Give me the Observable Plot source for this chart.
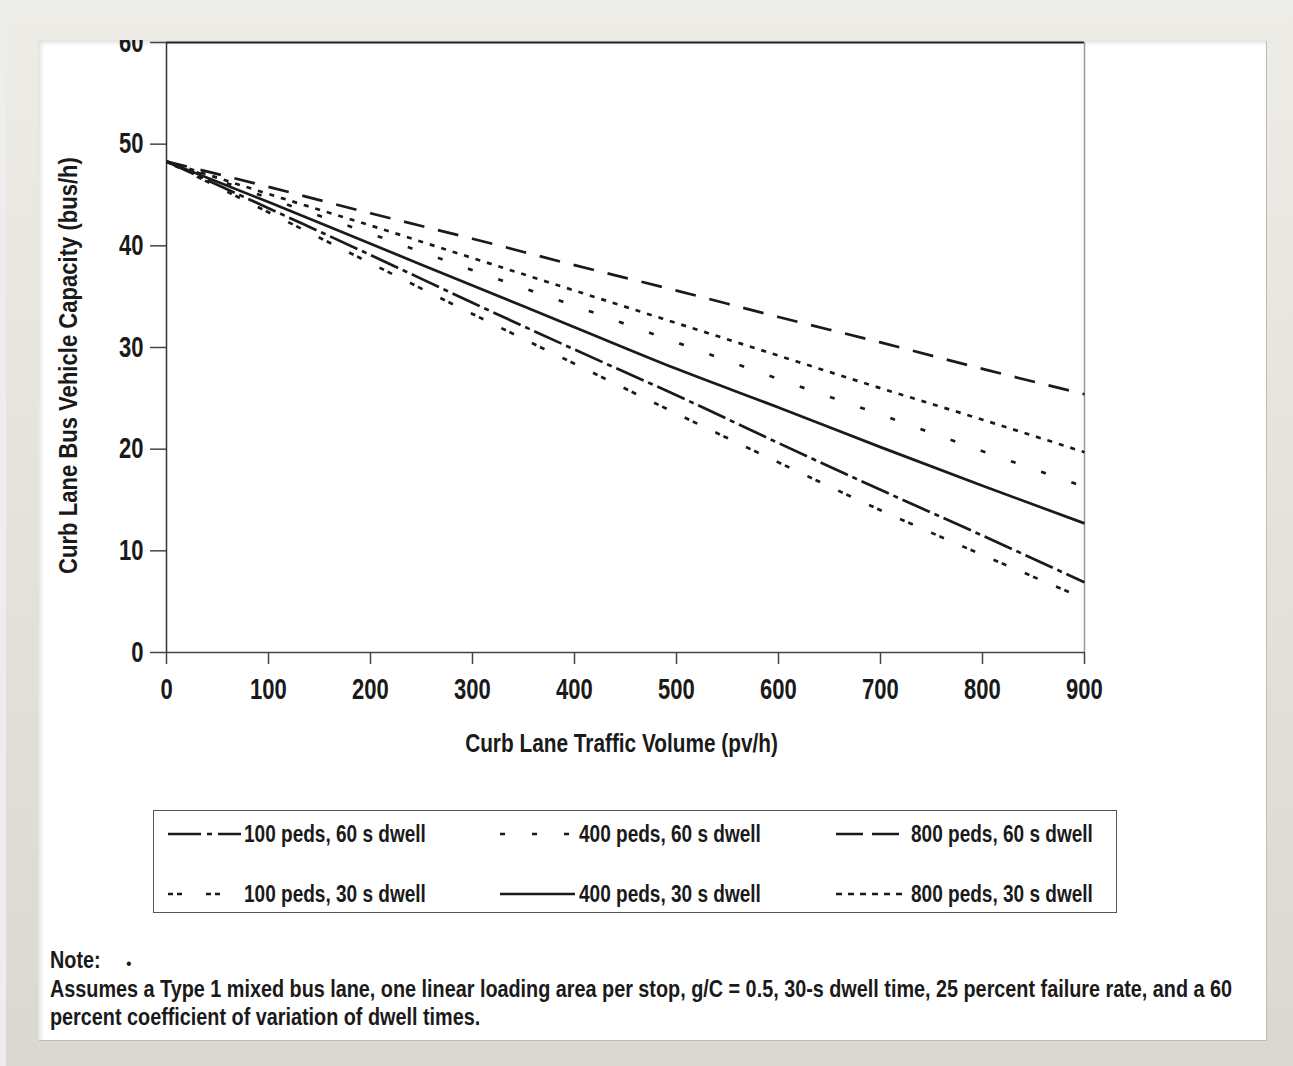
<!DOCTYPE html>
<html>
<head>
<meta charset="utf-8">
<script src="https://cdn.jsdelivr.net/npm/d3@7"></script>
<script src="https://cdn.jsdelivr.net/npm/@observablehq/plot@0.6"></script>
<style>
  html, body { margin: 0; padding: 0; }
  body { width: 1293px; height: 1066px; background: #ededeb; position: relative; overflow: hidden;
         font-family: "Liberation Sans", Arial, sans-serif; color: #1a1a1a; }
  #frame { position: absolute; left: 6px; top: 10px; width: 1287px; height: 1056px;
           background: linear-gradient(#eeece6, #e2e0d8 60%, #dad8d0); }
  #panel { position: absolute; left: 38px; top: 40px; width: 1228px; height: 1000px; background: #fff;
           overflow: hidden; box-shadow: inset 3px 3px 4px rgba(0,0,0,0.12), 1px 1px 0 #bbb; }
  #chart { position: absolute; left: 0; top: 0; }
  #legend { position: absolute; left: 115px; top: 770px; width: 962px; height: 101px;
            border: 1.5px solid #555; }
  .item { position: absolute; height: 30px; display: flex; align-items: center; }
  .item svg { display: block; }
  .cond { display: inline-block; transform-origin: left center; white-space: nowrap; font-weight: bold; }
  .item .cond { font-size: 23px; }
  #note { position: absolute; left: 12px; top: 906px; font-size: 23px; line-height: 28.5px; }
  #note div { position: relative; height: 28.5px; }
</style>
</head>
<body>
<div id="frame"></div>
<div id="panel">
  <div id="chart"></div>
  <div id="legend"></div>
  <div id="note"></div>
</div>
<script>
// ---- data ----
const volume = [0, 100, 200, 300, 400, 500, 600, 700, 800, 900];
const cap100_60 = [48.3, 43.7, 39.1, 34.4, 29.8, 25.3, 20.6, 16.0, 11.5, 6.9];
const cap100_30 = [48.3, 43.3, 38.3, 33.3, 28.4, 23.5, 18.7, 14.0, 9.6, 5.3];
const cap400_60 = [48.3, 44.7, 41.2, 37.6, 34.1, 30.5, 26.9, 23.4, 19.8, 16.3];
const cap400_30 = [48.3, 44.3, 40.2, 36.1, 32.0, 27.9, 24.1, 20.2, 16.4, 12.7];
const cap800_60 = [48.3, 45.8, 43.2, 40.7, 38.1, 35.6, 33.0, 30.5, 27.9, 25.4];
const cap800_30 = [48.3, 45.1, 42.0, 38.8, 35.6, 32.4, 29.2, 26.0, 22.9, 19.7];
const seriesNames = ["100 peds, 60 s dwell", "100 peds, 30 s dwell", "400 peds, 60 s dwell",
                     "400 peds, 30 s dwell", "800 peds, 60 s dwell", "800 peds, 30 s dwell"];
const seriesValues = [cap100_60, cap100_30, cap400_60, cap400_30, cap800_60, cap800_30];
const xTicks = [0, 100, 200, 300, 400, 500, 600, 700, 800, 900];
const yTicks = [0, 10, 20, 30, 40, 50, 60];
const xTitle = "Curb Lane Traffic Volume (pv/h)";
const yTitle = "Curb Lane Bus Vehicle Capacity (bus/h)";
const noteLines = ["Note:", "Assumes a Type 1 mixed bus lane, one linear loading area per stop, g/C = 0.5, 30-s dwell time, 25 percent failure rate, and a 60",
                   "percent coefficient of variation of dwell times."];

// ---- styles (separate from data) ----
const dashes = ["30,5,5,5", "5,4,5,20", "5,27", null, "21,14", "5,7"];
const legendDashes = ["33,6,5,6", "5,4,5,24", "5,27", null, "27,9", "6,6"];
const legendLen = [73, 54, 70, 75, 63, 70];
const tickSqueeze = 0.76;
const xTitleWidth = 313, yTitleWidth = 417, legendTextWidth = 182, noteWidth = 1182;

const rows = seriesNames.flatMap((name, i) => volume.map((v, j) => ({series: name, volume: v, cap: seriesValues[i][j]})));

const font = '"Liberation Sans", Arial, sans-serif';
const ink = "#1a1a1a";

const lineMarks = seriesNames.map((name, i) =>
  Plot.line(rows.filter(d => d.series === name), {
    x: "volume", y: "cap", stroke: ink, strokeWidth: 2.7, curve: "monotone-x",
    strokeDasharray: dashes[i] || undefined, strokeLinecap: "butt"
  }));

const chart = Plot.plot({
  width: 1228, height: 760,
  marginLeft: 128, marginRight: 182, marginTop: 2, marginBottom: 148,
  x: {domain: [0, 900]},
  y: {domain: [0, 60]},
  style: {fontFamily: font, fontWeight: "bold", color: ink, background: "transparent", overflow: "visible"},
  marks: [
    Plot.ruleY([60], {stroke: "#222", strokeWidth: 2.2}),
    Plot.ruleX([900], {stroke: "#999", strokeWidth: 1.5}),
    Plot.ruleY([0], {stroke: "#444", strokeWidth: 1.5}),
    Plot.ruleX([0], {stroke: "#333", strokeWidth: 1.5}),
    Plot.axisX({ticks: xTicks, tickSize: 12, tickPadding: 14, fontSize: 29, label: null, stroke: "#444", strokeWidth: 1.5}),
    Plot.axisY({ticks: yTicks, tickSize: 16, tickPadding: 7, fontSize: 29, label: null, stroke: "#444", strokeWidth: 1.5}),
    ...lineMarks,
    Plot.text([xTitle], {frameAnchor: "bottom", dy: 91, dx: -4, fontSize: 26, fill: ink, textAnchor: "middle", lineAnchor: "middle"}),
    Plot.text([yTitle], {frameAnchor: "left", dx: -98, dy: 18, rotate: -90, fontSize: 26, fill: ink, textAnchor: "middle", lineAnchor: "middle"})
  ]
});
document.getElementById("chart").appendChild(chart);

// condense svg text horizontally (the reference uses a condensed face)
function squeezeText(node, s) {
  const t = node.getAttribute("transform") || "";
  node.setAttribute("transform", t + ` scale(${s},1)`);
}
d3.select(chart).selectAll("g[aria-label='x-axis tick label'] text, g[aria-label='y-axis tick label'] text")
  .each(function() { squeezeText(this, tickSqueeze); });
d3.select(chart).selectAll("text").filter(function() { return this.textContent === xTitle; })
  .each(function() { squeezeText(this, xTitleWidth / this.getComputedTextLength()); });
d3.select(chart).selectAll("text").filter(function() { return this.textContent === yTitle; })
  .each(function() { squeezeText(this, yTitleWidth / this.getComputedTextLength()); });

// ---- legend ----
const legend = document.getElementById("legend");
const colLeft = [14, 346, 682];
const textLeft = [90, 425, 757];
const rowTop = [8, 68];
const legendSpans = [];
seriesNames.forEach((name, i) => {
  const col = Math.floor(i / 2), row = i % 2;
  const item = document.createElement("div");
  item.className = "item";
  item.style.left = colLeft[col] + "px";
  item.style.top = rowTop[row] + "px";
  const w = textLeft[col] - colLeft[col] - 2;
  const svg = d3.create("svg").attr("width", w).attr("height", 30);
  svg.append("line").attr("x1", 0).attr("x2", legendLen[i]).attr("y1", 15).attr("y2", 15)
    .attr("stroke", ink).attr("stroke-width", 2.4)
    .attr("stroke-dasharray", legendDashes[i] || null);
  item.appendChild(svg.node());
  const span = document.createElement("span");
  span.className = "cond";
  span.style.marginLeft = "2px";
  span.textContent = name;
  item.appendChild(span);
  legend.appendChild(item);
  legendSpans.push(span);
});
const legendScale = legendTextWidth / legendSpans[0].offsetWidth;
legendSpans.forEach(s => s.style.transform = `scaleX(${legendScale})`);

// ---- note ----
const note = document.getElementById("note");
const noteSpans = [];
noteLines.forEach((t, i) => {
  const div = document.createElement("div");
  const span = document.createElement("span");
  span.className = "cond";
  span.textContent = t;
  div.appendChild(span);
  if (i === 0) {
    const dot = document.createElement("span");
    dot.textContent = "•";
    dot.style.position = "absolute";
    dot.style.left = "76px";
    dot.style.top = "4px";
    dot.style.fontSize = "16px";
    div.appendChild(dot);
  }
  note.appendChild(div);
  noteSpans.push(span);
});
const noteScale = noteWidth / noteSpans[1].offsetWidth;
noteSpans.forEach(s => s.style.transform = `scaleX(${noteScale})`);
</script>
</body>
</html>
